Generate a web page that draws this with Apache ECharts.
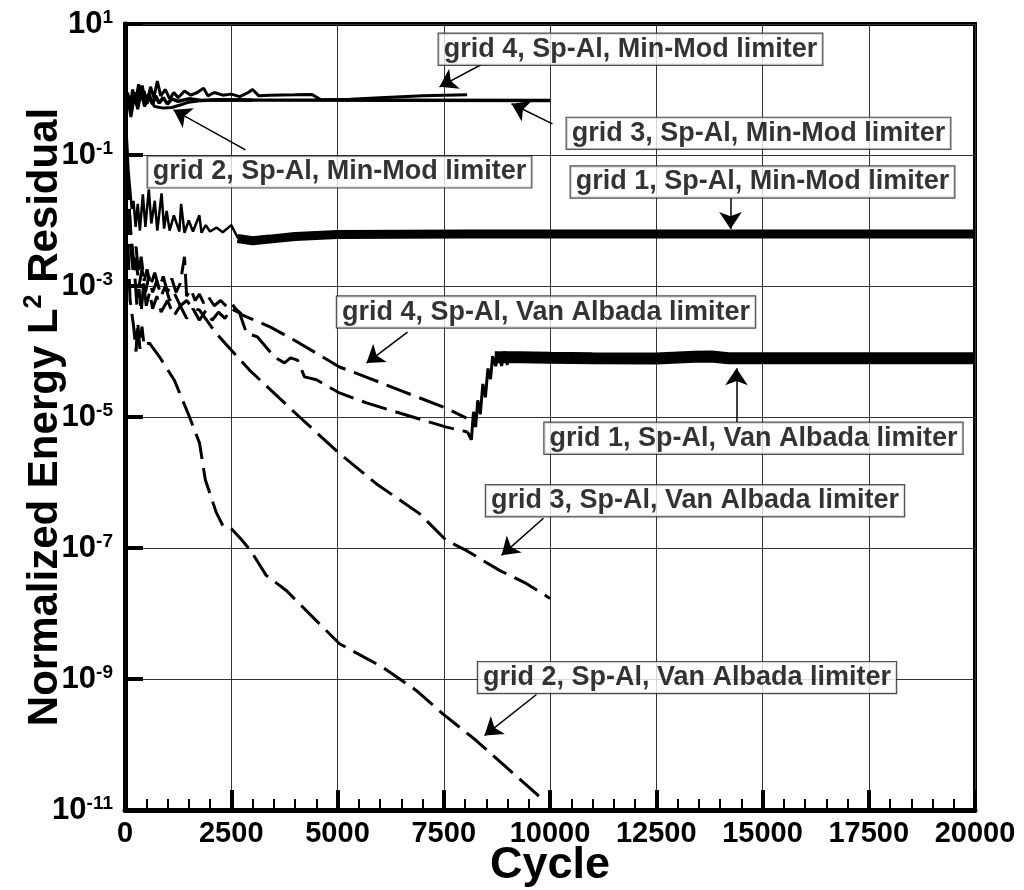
<!DOCTYPE html>
<html><head><meta charset="utf-8">
<script src="https://cdn.jsdelivr.net/npm/echarts@6/dist/echarts.min.js"></script>
<style>html,body{margin:0;padding:0;background:#fff}#c{width:1024px;height:890px}</style>
</head><body><div id="c"></div>
<script>
// ---- data: [cycle, normalized energy L2 residual] ----
const mm4 = [[0,0.6],[60,0.9],[120,0.55],[180,1.0],[250,0.65],[320,1.2],[380,0.7],[450,0.95],[520,0.6],[600,1.1],[680,0.75],[760,1.35],[840,0.8],[950,1.0],[1050,0.72],[1150,0.9],[1250,0.75],[1400,0.95],[1550,0.82],[1700,0.9],[1850,1.05],[1950,0.8],[2100,0.9],[2300,0.82],[2500,0.85],[2700,0.78],[2900,0.9],[3000,1.0],[3150,0.8],[3400,0.82],[4000,0.83],[4400,0.84],[4600,0.7],[5300,0.71],[6000,0.75],[7000,0.8],[8050,0.83]];
const mm3 = [[0,0.55],[80,0.8],[150,0.5],[230,0.9],[300,0.6],[400,1.15],[470,0.65],[560,0.85],[650,0.6],[720,0.8],[800,0.62],[900,0.75],[1000,0.6],[1100,0.72],[1250,0.66],[1500,0.72],[1800,0.68],[2200,0.7],[3000,0.69],[10000,0.68]];
const mm2 = [[0,0.6],[70,0.7],[140,0.38],[220,0.8],[300,0.5],[380,0.9],[460,0.55],[550,0.75],[700,0.55],[900,0.52],[1100,0.53],[1300,0.58],[1500,0.64],[1800,0.68],[2200,0.69],[3000,0.685]];
const mm1Early = [[0,0.6],[40,0.2],[80,0.06],[120,0.03],[160,0.015],[200,0.02],[250,0.008],[300,0.018],[350,0.007],[420,0.025],[480,0.008],[560,0.03],[620,0.009],[700,0.02],[760,0.007],[860,0.026],[920,0.0075],[980,0.014],[1050,0.007],[1150,0.012],[1280,0.0068],[1320,0.018],[1400,0.0065],[1500,0.01],[1600,0.0068],[1750,0.012],[1800,0.0065],[1900,0.0085],[2000,0.0068],[2150,0.0078],[2300,0.0066],[2500,0.0085],[2650,0.0055],[2800,0.005]];
const mm1Band = [[2650,0.0053],[3000,0.0049],[3400,0.0052],[4000,0.0057],[5000,0.0061],[8000,0.0062],[14000,0.0062],[20000,0.0062]];
const va4 = [[0,0.6],[50,0.08],[100,0.015],[150,0.004],[200,0.0022],[260,0.004],[320,0.0015],[380,0.0028],[450,0.0012],[520,0.0018],[600,0.001],[700,0.0016],[800,0.0009],[900,0.0014],[1000,0.0008],[1100,0.0013],[1200,0.0008],[1300,0.0011],[1400,0.0028],[1450,0.0007],[1550,0.0009],[1650,0.0006],[1750,0.00075],[1850,0.00055],[1950,0.0007],[2100,0.0005],[2250,0.0006],[2400,0.00048],[2500,0.00055],[2600,0.00045],[2765,0.00036],[3424,0.000236],[4106,0.000134],[5047,0.000058],[5753,0.000039],[6459,0.0000257],[7565,0.0000136],[8035,0.0000096]];
const va1 = [[0,0.6],[40,0.1],[90,0.02],[140,0.006],[190,0.003],[240,0.0012],[280,0.0005],[330,0.0009],[380,0.0004],[440,0.0011],[500,0.0005],[580,0.0008],[650,0.00045],[750,0.0007],[850,0.0004],[1000,0.0006],[1150,0.00035],[1300,0.0005],[1450,0.00032],[1600,0.00045],[1750,0.0003],[1900,0.00042],[2050,0.0003],[2200,0.0004],[2350,0.00032],[2500,0.00045],[2694,0.00039],[2859,0.00019],[3118,0.000167],[3518,0.000082],[3753,0.000067],[3894,0.00008],[4059,0.000074],[4224,0.000041],[4506,0.000037],[5047,0.0000233],[5682,0.0000164],[6459,0.0000115],[7565,0.000007],[8060,0.0000059]];
const va1Rise = [[8060,0.0000059],[8106,0.0000063],[8150,0.0000045],[8200,0.000012],[8250,0.000007],[8300,0.000018],[8360,0.000011],[8420,0.000032],[8480,0.00002],[8540,0.000055],[8600,0.000038],[8650,0.000085],[8720,0.00006],[8800,0.000095],[8860,0.00006],[8930,0.0001],[9000,0.000062]];
const va1Band = [[8700,0.000082],[9300,0.000082],[10000,0.00008],[11000,0.000079],[12500,0.000078],[13400,0.000083],[13800,0.000084],[14200,0.000079],[16000,0.000079],[20000,0.000079]];
const va3 = [[0,0.6],[50,0.05],[100,0.008],[150,0.003],[200,0.0015],[260,0.0025],[330,0.001],[400,0.0018],[480,0.0008],[560,0.0014],[650,0.0008],[750,0.0012],[850,0.0007],[950,0.001],[1050,0.0006],[1150,0.0008],[1300,0.0005],[1450,0.0006],[1600,0.00045],[1753,0.00043],[2146,0.000189],[2929,0.000052],[4106,0.00001],[5047,0.00000277],[5911,0.00000096],[6929,0.000000335],[7558,0.000000131],[8028,0.000000092],[8812,0.0000000455],[9440,0.0000000288],[10000,0.000000017]];
const va2 = [[0,0.6],[30,0.05],[70,0.004],[120,0.0006],[200,0.00025],[260,0.0001],[300,0.00028],[350,0.00011],[400,0.00024],[450,0.00012],[500,0.00013],[576,0.000134],[812,0.000083],[1165,0.000036],[1518,0.00001],[1753,0.000004],[1890,0.0000011],[2146,0.00000035],[2301,0.00000022],[2490,0.0000002],[2718,0.00000014],[2953,0.000000092],[3322,0.0000000382],[3793,0.0000000225],[4499,0.0000000078],[5047,0.00000000345],[6066,0.00000000151],[6852,0.00000000067],[7478,0.000000000294],[8264,0.000000000115],[8969,0.000000000045],[9595,0.0000000000198],[9800,0.000000000015]];

const xTickValues = [0,2500,5000,7500,10000,12500,15000,17500,20000];
const labelText = ['grid 4, Sp-Al, Min-Mod limiter','grid 3, Sp-Al, Min-Mod limiter','grid 1, Sp-Al, Min-Mod limiter','grid 2, Sp-Al, Min-Mod limiter','grid 4, Sp-Al, Van Albada limiter','grid 1, Sp-Al, Van Albada limiter','grid 3, Sp-Al, Van Albada limiter','grid 2, Sp-Al, Van Albada limiter'];
const labelAt = [[11894,4.12],[14906,0.214],[15000,0.0388],[5047,0.0552],[9906,4.0e-4],[14788,4.74e-6],[13412,5.26e-7],[13224,1.05e-9]];
const arrowFrom = [[8376,2.39],[10059,0.299],[14247,0.0221],[2835,0.12],[6647,1.98e-4],[14388,8.3e-6],[9847,2.84e-7],[9682,5.8e-10]];
const arrowTo = [[7400,1.10],[9094,0.605],[14247,0.00743],[1141,0.49],[5682,6.65e-5],[14388,5.57e-5],[8859,7.73e-8],[8459,1.37e-10]];

const FONT = '"Liberation Sans", Arial, Helvetica, sans-serif';
const solid = (name, data, w) => ({name, type:'line', data, symbol:'none', showSymbol:false, animation:false,
  lineStyle:{color:'#000', width:w}, z:3});
const dashed = (name, data) => ({name, type:'line', data, symbol:'none', showSymbol:false, animation:false,
  lineStyle:{color:'#000', width:3, type:[26,9]}, z:3});

const chart = echarts.init(document.getElementById('c'), null, {renderer:'canvas'});
chart.setOption({
  backgroundColor:'#fff',
  animation:false,
  grid:{left:125, top:24, width:850, height:786, containLabel:false, outerBoundsMode:'none',
    show:true, borderColor:'#000', borderWidth:4, backgroundColor:'rgba(0,0,0,0)'},
  xAxis:{type:'value', min:0, max:20000, interval:2500,
    axisLine:{onZero:false, lineStyle:{color:'#000', width:5}},
    axisTick:{inside:true, length:20, lineStyle:{color:'#000', width:4}},
    minorTick:{show:true, splitNumber:5, length:11, lineStyle:{color:'#000', width:2}},
    splitLine:{show:true, lineStyle:{color:'#333', width:1}},
    axisLabel:{fontSize:29, fontWeight:'bold', fontFamily:FONT, color:'#000', margin:9,
      formatter:v => xTickValues.includes(v) ? String(v) : ''},
    name:'Cycle', nameLocation:'middle', nameGap:33, nameMoveOverlap:false,
    nameTextStyle:{fontSize:45, fontWeight:'bold', fontFamily:FONT, color:'#000'}
  },
  yAxis:{type:'log', logBase:10, min:1e-11, max:10, interval:2,
    axisLine:{onZero:false, lineStyle:{color:'#000', width:5}},
    axisTick:{inside:true, length:18, lineStyle:{color:'#000', width:4}},
    minorTick:{show:false},
    splitLine:{show:true, lineStyle:{color:'#333', width:1}},
    axisLabel:{margin:12, fontSize:30, fontWeight:'bold', fontFamily:FONT, color:'#000',
      formatter:v => '{b|10}{s|' + Math.round(Math.log10(v)) + '}',
      rich:{b:{fontSize:31, fontWeight:'bold', fontFamily:FONT, color:'#000', lineHeight:32},
            s:{fontSize:19, fontWeight:'bold', fontFamily:FONT, color:'#000', verticalAlign:'top', lineHeight:19}}},
    name:'{a|Normalized Energy L}{s|2}{a| Residual}', nameLocation:'middle', nameGap:57, nameRotate:90, nameMoveOverlap:false,
    nameTextStyle:{fontSize:42, fontWeight:'bold', fontFamily:FONT, color:'#000',
      rich:{a:{fontSize:42, fontWeight:'bold', fontFamily:FONT, color:'#000', lineHeight:46},
            s:{fontSize:25, fontWeight:'bold', fontFamily:FONT, color:'#000', verticalAlign:'top', lineHeight:25}}}
  },
  series:[
    solid('grid 4, Sp-Al, Min-Mod limiter', mm4, 3),
    solid('grid 3, Sp-Al, Min-Mod limiter', mm3, 3.5),
    solid('grid 2, Sp-Al, Min-Mod limiter', mm2, 3),
    solid('grid 1, Sp-Al, Min-Mod limiter', mm1Early, 2.5),
    solid('grid 1, Sp-Al, Min-Mod limiter (band)', mm1Band, 9),
    dashed('grid 4, Sp-Al, Van Albada limiter', va4),
    dashed('grid 1, Sp-Al, Van Albada limiter', va1),
    solid('grid 1, Sp-Al, Van Albada limiter (rise)', va1Rise, 3),
    solid('grid 1, Sp-Al, Van Albada limiter (band)', va1Band, 12),
    dashed('grid 3, Sp-Al, Van Albada limiter', va3),
    dashed('grid 2, Sp-Al, Van Albada limiter', va2),
    {type:'lines', coordinateSystem:'cartesian2d', z:8, animation:false, silent:true,
      symbol:['none','arrow'], symbolSize:17,
      lineStyle:{color:'#000', width:1.5, opacity:1, curveness:0},
      data: arrowFrom.map((f,i) => ({coords:[f, arrowTo[i]]}))},
    {type:'scatter', z:10, animation:false, silent:true, symbolSize:1,
      itemStyle:{color:'rgba(0,0,0,0)'},
      label:{show:true, position:'inside', formatter:'{b}', fontSize:27, fontWeight:'bold', fontFamily:FONT,
        color:'#000', backgroundColor:'#fff', borderColor:'#222', borderWidth:1.2, padding:[2,5,1,5], lineHeight:28},
      data: labelAt.map((p,i) => ({name:labelText[i], value:p}))}
  ]
});
</script></body></html>
